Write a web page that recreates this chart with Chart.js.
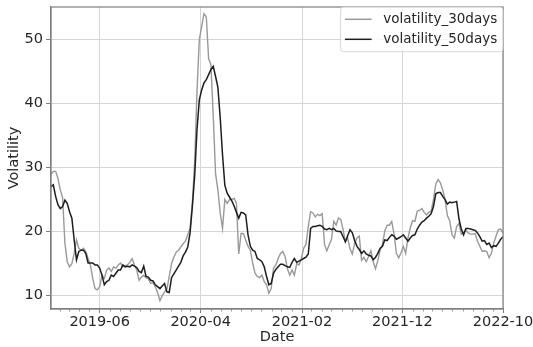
<!DOCTYPE html>
<html>
<head>
<meta charset="utf-8">
<script src="https://cdn.jsdelivr.net/npm/chart.js@4/dist/chart.umd.min.js"></script>
<style>
  html, body { margin: 0; padding: 0; background: #ffffff; }
  #wrap { width: 533px; height: 347px; position: relative; }
</style>
</head>
<body>
<div id="wrap"><canvas id="c" width="533" height="347"></canvas></div>
<script>
// Rolling volatility, weekly samples starting at startDate
const seriesNames = ['volatility_30days', 'volatility_50days'];
const startDate = '2019-01-05';
const stepDays = 7;

const vol30 = [
  28.9, 29.4, 29.4, 28.3, 26.5, 25.3, 18.2, 15.3, 14.5, 15.0,
  16.6, 18.7, 17.4, 17.1, 17.4, 16.9, 15.8, 14.8, 12.7, 11.1,
  10.9, 11.4, 13.2, 12.7, 14.0, 14.3, 13.8, 14.5, 14.3, 14.8,
  15.1, 14.5, 14.7, 14.8, 15.2, 15.8, 14.8, 14.0, 12.4, 12.9,
  13.2, 12.8, 12.6, 11.9, 12.0, 11.4, 10.5, 9.2, 10.0, 10.6,
  11.0, 13.0, 15.0, 16.0, 16.8, 17.1, 17.6, 18.1, 18.5, 19.5,
  20.5, 24.5, 31.0, 42.0, 50.0, 52.0, 54.0, 53.5, 47.0, 46.0,
  38.0, 29.0, 26.5, 22.9, 20.5, 25.0, 24.4, 25.0, 25.0, 25.2,
  24.4, 16.5, 19.7, 19.7, 18.7, 17.7, 17.1, 15.1, 13.5, 13.0,
  12.8, 13.2, 12.2, 11.7, 10.4, 11.1, 14.3, 14.8, 15.8, 16.6,
  16.9, 16.1, 14.2, 13.2, 14.0, 13.2, 15.0, 14.8, 15.8, 17.4,
  18.0, 20.8, 23.1, 22.9, 22.3, 22.7, 22.5, 22.8, 18.0, 17.0,
  17.9, 18.8, 21.6, 21.0, 22.1, 21.9, 20.3, 18.4, 19.0, 17.3,
  16.5, 18.2, 19.0, 19.3, 15.5, 16.0, 15.3, 16.1, 17.0, 15.3,
  14.2, 15.5, 17.1, 18.0, 20.1, 21.0, 21.0, 21.6, 19.6, 16.6,
  15.9, 16.7, 17.7, 16.6, 19.0, 20.6, 21.7, 21.6, 23.2, 23.3,
  23.6, 23.0, 22.6, 23.0, 23.2, 25.0, 27.4, 28.1, 27.6, 26.5,
  25.0, 22.5, 21.7, 19.5, 19.0, 20.8, 21.3, 19.6, 19.8, 20.2,
  19.8, 19.6, 19.6, 19.7, 18.5, 17.7, 16.9, 17.0, 16.9, 15.9,
  16.6, 18.2, 19.3, 20.3, 20.4, 19.8
];

const vol50 = [
  27.0, 27.3, 25.5, 24.2, 23.6, 23.9, 24.9, 24.4, 23.1, 22.1,
  18.7, 15.6, 16.9, 17.1, 17.1, 16.6, 15.1, 15.1, 15.1, 14.8,
  14.8, 14.3, 13.2, 11.7, 12.2, 12.4, 13.2, 13.0, 13.5, 14.0,
  14.0, 14.8, 14.5, 14.6, 14.5, 14.8, 14.6, 14.4, 13.8, 13.6,
  14.6, 13.0, 12.9, 12.4, 12.3, 11.7, 11.4, 11.1, 11.5, 11.9,
  10.6, 10.5, 12.8, 13.4, 14.0, 14.6, 15.2, 16.2, 16.8, 17.6,
  19.8, 24.0, 28.8, 36.0, 40.6, 42.1, 43.2, 43.7, 44.5, 45.3,
  45.8, 44.2, 42.5, 37.8, 32.0, 27.2, 26.0, 25.4, 24.8, 24.0,
  23.0, 22.1, 23.0, 22.9, 22.6, 19.5, 17.7, 17.1, 16.9, 15.8,
  15.6, 15.3, 14.5, 13.0, 11.7, 11.9, 13.5, 14.1, 14.5, 14.9,
  14.9, 14.7, 14.5, 14.4, 15.2, 15.8, 15.2, 15.4, 15.6, 15.8,
  16.0, 16.5, 20.5, 20.8, 20.8, 20.9, 21.0, 20.8, 20.4, 20.3,
  20.5, 20.3, 20.5, 20.1, 20.0, 20.0, 19.2, 18.4, 19.4, 20.3,
  19.8, 18.6, 17.7, 17.2, 16.6, 17.0, 16.5, 16.3, 16.2, 15.6,
  16.0, 16.6, 17.4, 17.7, 18.7, 18.6, 19.1, 19.5, 19.3, 18.8,
  19.0, 19.2, 19.5, 19.0, 18.5, 19.0, 19.4, 19.5, 20.4, 21.0,
  21.5, 21.7, 22.1, 22.4, 22.8, 23.9, 25.9, 26.1, 26.1, 25.5,
  25.0, 24.3, 24.6, 24.5, 24.6, 24.7, 22.0, 20.4, 19.5, 20.5,
  20.5, 20.4, 20.3, 20.2, 19.8, 19.2, 18.5, 18.6, 18.0, 18.2,
  17.5, 17.8, 17.7, 18.2, 18.8, 19.2
];

const xTickLabels = ['2019-06', '2020-04', '2021-02', '2021-12', '2022-10'];
const yTicks = [10, 20, 30, 40, 50];
const yRange = [7.92, 55.05];

const DAY = 86400000;
function parseYMD(s) {
  const p = s.split('-').map(Number);
  return Date.UTC(p[0], p[1] - 1, p[2] || 1);
}
function fmtYM(ms) {
  const d = new Date(ms);
  return d.getUTCFullYear() + '-' + String(d.getUTCMonth() + 1).padStart(2, '0');
}

const t0 = parseYMD(startDate);
const dates = vol30.map((_, i) => t0 + i * stepDays * DAY);
const xMajor = xTickLabels.map(parseYMD);

const FONT = '"DejaVu Sans", "Liberation Sans", sans-serif';
const TEXT = '#262626';
const GRID = '#d6d6d6';
const SPINE = '#7f7f7f';

// spines on all four sides, monthly minor ticks, legend box in the upper right
const decorations = {
  id: 'decorations',
  afterDatasetsDraw(chart) {
    const { ctx, chartArea: a, scales } = chart;
    ctx.save();
    // monthly minor ticks
    ctx.strokeStyle = SPINE;
    ctx.lineWidth = 0.8;
    const first = new Date(dates[0]);
    let y = first.getUTCFullYear(), m = first.getUTCMonth() + 1;
    while (true) {
      const ms = Date.UTC(y, m, 1);
      if (ms > dates[dates.length - 1]) break;
      if (!xMajor.includes(ms)) {
        const px = Math.round(scales.x.getPixelForValue(ms)) + 0.5;
        ctx.beginPath();
        ctx.moveTo(px, a.bottom);
        ctx.lineTo(px, a.bottom + 2.5);
        ctx.stroke();
      }
      m++;
      if (m > 11) { m = 0; y++; }
    }
    // frame
    ctx.strokeStyle = SPINE;
    ctx.lineWidth = 1.2;
    ctx.strokeRect(a.left, a.top, a.right - a.left, a.bottom - a.top);
    ctx.restore();
  },
  afterDraw(chart) {
    const { ctx, chartArea: a } = chart;
    const colors = chart.data.datasets.map(d => d.borderColor);
    ctx.save();
    ctx.font = '13.5px ' + FONT;
    const textW = Math.max(...seriesNames.map(n => ctx.measureText(n).width));
    const padL = 4.3, handle = 26.7, gap = 11.7, padR = 5.8;
    const w = padL + handle + gap + textW + padR;
    const h = 44.7;
    const left = a.right - w, top = a.top;
    ctx.beginPath();
    if (ctx.roundRect) ctx.roundRect(left, top, w, h, 3);
    else ctx.rect(left, top, w, h);
    ctx.fillStyle = 'rgba(255,255,255,0.8)';
    ctx.fill();
    ctx.strokeStyle = 'rgba(204,204,204,0.8)';
    ctx.lineWidth = 1;
    ctx.stroke();
    seriesNames.forEach((name, i) => {
      const cy = top + 12.3 + i * 20;
      ctx.strokeStyle = colors[i];
      ctx.lineWidth = 1.5;
      ctx.beginPath();
      ctx.moveTo(left + padL, cy);
      ctx.lineTo(left + padL + handle, cy);
      ctx.stroke();
      ctx.fillStyle = TEXT;
      ctx.textBaseline = 'middle';
      ctx.textAlign = 'left';
      ctx.fillText(name, left + padL + handle + gap, cy + 0.5);
    });
    ctx.restore();
  }
};

new Chart(document.getElementById('c'), {
  type: 'line',
  data: {
    datasets: [
      {
        label: seriesNames[0],
        data: dates.map((x, i) => ({ x, y: vol30[i] })),
        borderColor: '#999999',
        borderWidth: 1.4,
        pointRadius: 0,
        tension: 0,
        order: 2
      },
      {
        label: seriesNames[1],
        data: dates.map((x, i) => ({ x, y: vol50[i] })),
        borderColor: '#1e1e1e',
        borderWidth: 1.5,
        pointRadius: 0,
        tension: 0,
        order: 1
      }
    ]
  },
  options: {
    responsive: false,
    animation: false,
    devicePixelRatio: 1,
    layout: { padding: { top: 7, right: 30, left: 0, bottom: 0 } },
    plugins: {
      legend: { display: false },
      tooltip: { enabled: false }
    },
    scales: {
      x: {
        type: 'linear',
        min: dates[0],
        max: dates[dates.length - 1],
        afterBuildTicks: s => { s.ticks = xMajor.map(v => ({ value: v })); },
        afterFit: s => { s.height = 38; s.paddingLeft = 0; s.paddingRight = 0; },
        ticks: {
          callback: v => fmtYM(v),
          font: { family: FONT, size: 14.5 },
          color: TEXT,
          padding: 1,
          maxRotation: 0,
          autoSkip: false
        },
        grid: { color: GRID, lineWidth: 1, tickLength: 4, tickColor: SPINE, tickWidth: 1 },
        border: { color: SPINE, width: 1.2 },
        title: {
          display: true,
          text: 'Date',
          font: { family: FONT, size: 14.5 },
          color: TEXT,
          padding: { top: 0, bottom: 1 }
        }
      },
      y: {
        type: 'linear',
        min: yRange[0],
        max: yRange[1],
        afterBuildTicks: s => { s.ticks = yTicks.map(v => ({ value: v })); },
        afterFit: s => { s.width = 51; s.paddingTop = 0; s.paddingBottom = 0; },
        ticks: {
          font: { family: FONT, size: 14.5 },
          color: TEXT,
          padding: 3
        },
        grid: { color: GRID, lineWidth: 1, tickLength: 5, tickColor: SPINE, tickWidth: 1 },
        border: { color: SPINE, width: 1.2 },
        title: {
          display: true,
          text: 'Volatility',
          font: { family: FONT, size: 14.5 },
          color: TEXT,
          padding: { top: 6, bottom: 0 }
        }
      }
    }
  },
  plugins: [decorations]
});
</script>
</body>
</html>
